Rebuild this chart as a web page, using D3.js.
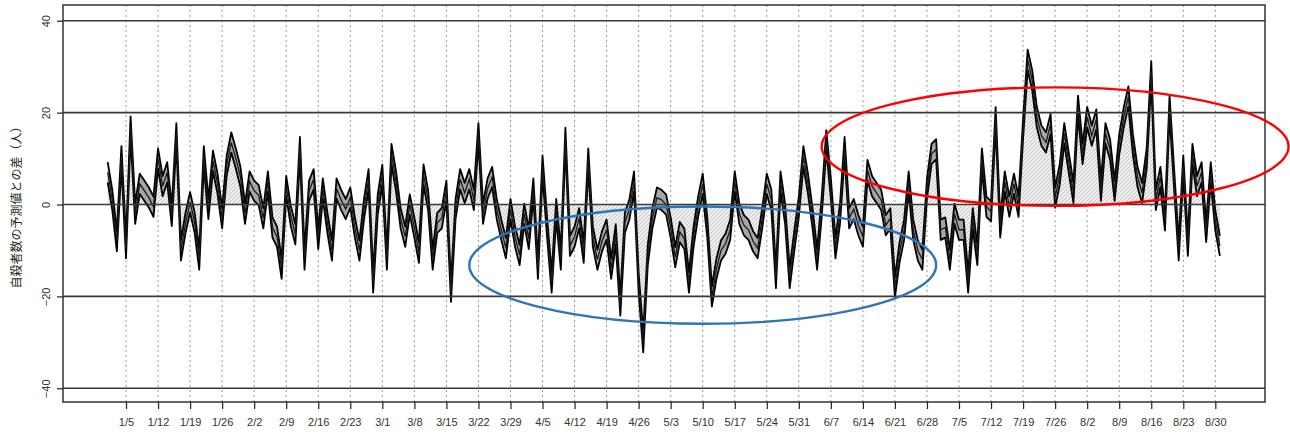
<!DOCTYPE html>
<html>
<head>
<meta charset="utf-8">
<script src="https://cdn.jsdelivr.net/npm/d3@7"></script>
<style>
  html, body { margin: 0; padding: 0; background: #fff; }
  svg { display: block; }
</style>
</head>
<body>
<svg id="chart" width="1290" height="434"></svg>
<script>
// ---------------- DATA ----------------
const startDate = "2020-01-01";
// daily difference between observed and predicted suicides (people), Jan 1 – Aug 31
const janValues = [7, 1, -8, 10.5, -9.5, 17, -2, 4.5, 3, 1.5, -0.5, 10, 4, 7, -2.5, 15.5, -10, -4, 0.5, -4, -12, 10.5, -1, 9.5, 4.5, -3, 8.5, 13.5, 10, 6, -2];
const febValues = [5, 3, 2, -3, 5, -5, -7, -14, 4, -2.5, -6.5, 12.5, -12, 3, 5.5, -7.5, 3.5, -4, -10, 3.5, 1, -1, 1.5, -5, -10, -1, 5.5, -17, 0];
const marValues = [6.5, -12, 11, 5, -3, -7, 0, -5, -10.5, 6.5, 1, -12, -4, -3, 3, -19, -1, 5.5, 2.5, 5.5, 1, 15.5, -2, 3.5, 6, -1, -5.5, -9.5, -1, -7, -11];
const aprValues = [-2, -7.5, 3.5, -14, 8.5, -5, -17, -1, -12, 14.5, -9, -7, -3, -10.5, 10, -7, -12, -8, -5.5, -14, -6.5, -22, -4, -1, 5, -17, -30, -11, -3, 1.5];
const mayValues = [1, 0, -5, -11.5, -6, -7.5, -17, -7, -0.5, 4.5, -5, -20, -14, -10, -8.5, -5.5, 5, -2, -4.5, -5.5, -8, -9.5, -3, 4.5, 1, -16, 5, -2, -16, -8, -0.5];
const junValues = [10.5, 4.5, -3, -12, -0.5, 14, 3.5, -9.5, -2, 12.5, -3, -1, -4.5, -7, 7.5, 4, 2.5, 1, -4.5, -3, -18, -10.5, -5.5, 5, -5.5, -10, -12, 3.5, 11, 12];
const julValues = [-5.5, -5, -12, -2, -5.5, -5.5, -17, -3, -11, 10, -0.5, -1.5, 19, -5, 5, -0.5, 4.5, -0.5, 16.5, 31.5, 27, 19, 15, 13.5, 17.5, 1.5, 6.5, 15.5, 9, 2.5, 21.5];
const augValues = [11, 19, 15, 18.5, 3, 15.5, 12, 3, 13, 19, 23.5, 13, 6, 2.5, 10, 29, 1, 6, -3.5, 21.5, 5.5, -10, 8.5, -9, 11, 4, 7, -6, 7, -3.5, -9];
// half width of the uncertainty band (people)
const bandHalfWidth = 2.2;

const xTickLabels = ["1/5","1/12","1/19","1/26","2/2","2/9","2/16","2/23","3/1","3/8","3/15","3/22","3/29","4/5","4/12","4/19","4/26","5/3","5/10","5/17","5/24","5/31","6/7","6/14","6/21","6/28","7/5","7/12","7/19","7/26","8/2","8/9","8/16","8/23","8/30"];
const yTickValues = [-40, -20, 0, 20, 40];
const yTitle = "自殺者数の予測値との差（人）";

// annotation ellipses (data coordinates)
const ellipseCenters = ["2020-05-10", "2020-07-26"];
const ellipseValues = [-13.2, 12.6];
const ellipseHalfDays = [51, 51];
const ellipseHalfValues = [12.75, 12.9];
const ellipseColors = ["#2e75b6", "#ff0000"];

// ---------------- BUILD ----------------
const parse = d3.timeParse("%Y-%m-%d");
const allValues = [].concat(janValues, febValues, marValues, aprValues, mayValues, junValues, julValues, augValues);
const t0 = parse(startDate);
const series = allValues.map((v, i) => ({ date: d3.timeDay.offset(t0, i), value: v }));
const year = t0.getFullYear();
const tickDates = xTickLabels.map(s => { const [m, d] = s.split("/").map(Number); return new Date(year, m - 1, d); });

// ---------------- LAYOUT ----------------
const frame = { left: 63, right: 1265, top: 5, bottom: 402 };
const svg = d3.select("#chart");

const x = d3.scaleTime()
  .domain([series[0].date, series[series.length - 1].date])
  .range([107.7, 1219.9]);
const y = d3.scaleLinear().domain([-40, 40]).range([388.3, 20.7]);

// hatch pattern
const defs = svg.append("defs");
const pat = defs.append("pattern")
  .attr("id", "hatch").attr("patternUnits", "userSpaceOnUse")
  .attr("width", 4).attr("height", 4);
pat.append("rect").attr("width", 4).attr("height", 4).attr("fill", "#ececec");
pat.append("path").attr("d", "M-1,1 l2,-2 M0,4 l4,-4 M3,5 l2,-2")
  .attr("stroke", "#c0c0c0").attr("stroke-width", 0.8);

const clip = defs.append("clipPath").attr("id", "plotclip");
clip.append("rect").attr("x", frame.left).attr("y", frame.top)
  .attr("width", frame.right - frame.left).attr("height", frame.bottom - frame.top);

// vertical dotted grid
svg.append("g").selectAll("line").data(tickDates).join("line")
  .attr("x1", d => x(d)).attr("x2", d => x(d))
  .attr("y1", frame.top).attr("y2", frame.bottom)
  .attr("stroke", "#9a9a9a").attr("stroke-width", 1)
  .attr("stroke-dasharray", "2,3");

const plot = svg.append("g").attr("clip-path", "url(#plotclip)");

// hatched area between zero and the series
plot.append("path").datum(series)
  .attr("d", d3.area().x(d => x(d.date)).y0(y(0)).y1(d => y(d.value)))
  .attr("fill", "url(#hatch)");

// horizontal grid lines
svg.append("g").selectAll("line").data(yTickValues).join("line")
  .attr("x1", frame.left).attr("x2", frame.right)
  .attr("y1", d => y(d)).attr("y2", d => y(d))
  .attr("stroke", "#3a3a3a").attr("stroke-width", 1.6);

// uncertainty band
plot.append("path").datum(series)
  .attr("d", d3.area().x(d => x(d.date))
    .y0(d => y(d.value - bandHalfWidth)).y1(d => y(d.value + bandHalfWidth)))
  .attr("fill", "#a6a6a6");
[-bandHalfWidth, bandHalfWidth].forEach(off => {
  plot.append("path").datum(series)
    .attr("d", d3.line().x(d => x(d.date)).y(d => y(d.value + off)))
    .attr("fill", "none").attr("stroke", "#000").attr("stroke-width", 1.8)
    .attr("stroke-linejoin", "round");
});
plot.append("path").datum(series)
  .attr("d", d3.line().x(d => x(d.date)).y(d => y(d.value)))
  .attr("fill", "none").attr("stroke", "#1a1a1a").attr("stroke-width", 1.3);

// frame
svg.append("rect")
  .attr("x", frame.left).attr("y", frame.top)
  .attr("width", frame.right - frame.left).attr("height", frame.bottom - frame.top)
  .attr("fill", "none").attr("stroke", "#333").attr("stroke-width", 1.5);

// x axis
const xAxis = svg.append("g").attr("transform", `translate(0,${frame.bottom})`)
  .call(d3.axisBottom(x).tickValues(tickDates).tickFormat((d, i) => xTickLabels[i])
    .tickSize(7).tickPadding(9));
xAxis.select(".domain").remove();
xAxis.selectAll(".tick line").attr("stroke", "#222").attr("stroke-width", 1.2);
xAxis.selectAll(".tick text").attr("font-family", "'Liberation Sans', Arial, sans-serif")
  .attr("font-size", 11).attr("fill", "#333");

// y axis
const yAxis = svg.append("g").attr("transform", `translate(${frame.left},0)`)
  .call(d3.axisLeft(y).tickValues(yTickValues).tickSize(6).tickPadding(0).tickFormat(d3.format("d")));
yAxis.select(".domain").remove();
yAxis.selectAll(".tick line").attr("stroke", "#222").attr("stroke-width", 1.2);
yAxis.selectAll(".tick text")
  .attr("font-family", "'Liberation Sans', Arial, sans-serif").attr("font-size", 11).attr("fill", "#333")
  .attr("x", null).attr("dy", null)
  .attr("text-anchor", "middle")
  .attr("transform", "translate(-17,0) rotate(-90)")
  .attr("dy", "0.35em");

// y title
svg.append("text")
  .attr("transform", `translate(17,${y(0)}) rotate(-90)`)
  .attr("text-anchor", "middle").attr("dy", "0.35em")
  .attr("font-family", "'Noto Sans CJK JP', sans-serif").attr("font-size", 12)
  .attr("fill", "#222")
  .text(yTitle);

// annotation ellipses
const ell = ellipseCenters.map((c, i) => {
  const cd = parse(c);
  return {
    cx: x(cd), cy: y(ellipseValues[i]),
    rx: x(d3.timeDay.offset(cd, ellipseHalfDays[i])) - x(cd),
    ry: y(0) - y(ellipseHalfValues[i]),
    color: ellipseColors[i]
  };
});
svg.append("g").selectAll("ellipse").data(ell).join("ellipse")
  .attr("cx", d => d.cx).attr("cy", d => d.cy)
  .attr("rx", d => d.rx).attr("ry", d => d.ry)
  .attr("fill", "none").attr("stroke", d => d.color).attr("stroke-width", 2.4);
</script>
</body>
</html>
